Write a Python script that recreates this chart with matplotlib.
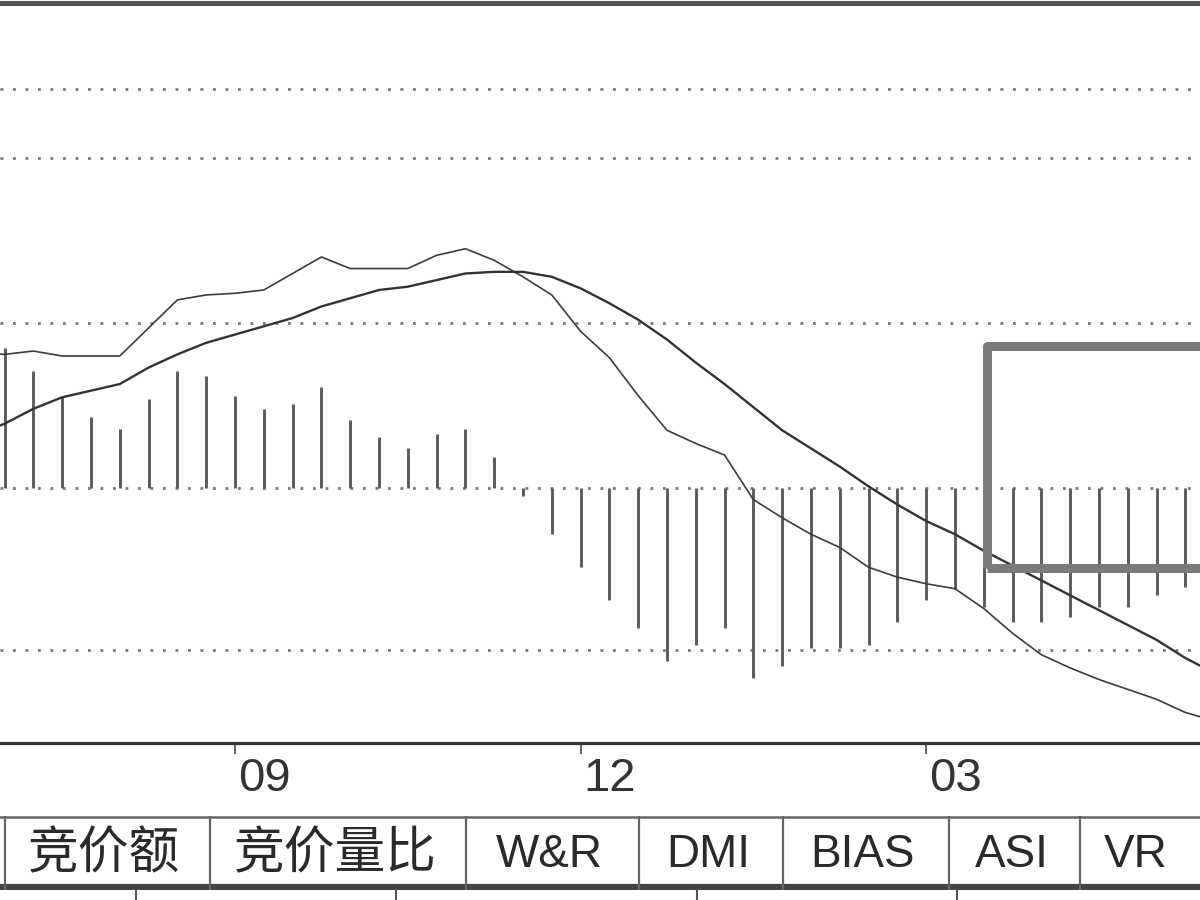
import numpy as np
import matplotlib
matplotlib.use("Agg")
import matplotlib.pyplot as plt
from matplotlib.patches import Rectangle
import matplotlib.transforms as mtransforms

plt.rcParams['font.family'] = ['Liberation Sans', 'Noto Sans CJK SC', 'DejaVu Sans']

# MACD values (one value per trading period)
dif = [0.082, 0.081, 0.083, 0.080, 0.080, 0.080, 0.097, 0.114, 0.117, 0.118, 0.120,
       0.130, 0.140, 0.133, 0.133, 0.133, 0.141, 0.145, 0.138, 0.128, 0.117, 0.095,
       0.079, 0.056, 0.035, 0.027, 0.020, -0.007, -0.018, -0.028, -0.036, -0.048,
       -0.054, -0.058, -0.061, -0.073, -0.088, -0.101, -0.109, -0.116, -0.122,
       -0.128, -0.136, -0.141]
dea = [0.032, 0.039, 0.048, 0.055, 0.059, 0.063, 0.073, 0.081, 0.088, 0.093, 0.098,
       0.103, 0.110, 0.115, 0.120, 0.122, 0.126, 0.130, 0.131, 0.131, 0.128, 0.121,
       0.112, 0.102, 0.090, 0.076, 0.063, 0.049, 0.035, 0.024, 0.013, 0.001,
       -0.010, -0.020, -0.028, -0.038, -0.047, -0.056, -0.065, -0.074, -0.083,
       -0.092, -0.103, -0.112]
macd = [0.085, 0.071, 0.055, 0.043, 0.036, 0.054, 0.071, 0.068, 0.056, 0.048, 0.051,
        0.061, 0.041, 0.031, 0.024, 0.033, 0.036, 0.019, -0.005, -0.028, -0.048,
        -0.068, -0.085, -0.105, -0.095, -0.085, -0.115, -0.108, -0.097, -0.097,
        -0.095, -0.081, -0.068, -0.061, -0.072, -0.081, -0.081, -0.078, -0.072,
        -0.072, -0.065, -0.060]
grid_levels = [0.242, 0.20, 0.10, 0.0, -0.098]
month_ticks = [8, 20, 32]
month_labels = ["09", "12", "03"]
tab_labels = ["竞价额", "竞价量比", "W&R", "DMI", "BIAS", "ASI", "VR"]
tab_edges = [5, 210, 466, 639, 783, 949, 1080, 1198]

W, H = 1200, 900
fig = plt.figure(figsize=(12, 9), dpi=100)
fig.patch.set_facecolor('white')

# main indicator panel
ax = fig.add_axes([0, (H - 743) / H, 1, (743 - 3) / H])
line_x = np.arange(len(dif)) - 1
bar_x = np.arange(len(macd))

for lv in grid_levels:
    ax.axhline(lv, color='#777777', lw=2.0, linestyle=(0, (1, 3.5)), zorder=1)

ax.vlines(bar_x, 0, macd, color='#5a5a5a', lw=2.1, zorder=2)
ax.plot(line_x, dif, color='#3c3c3c', lw=1.2, zorder=3)
ax.plot(line_x, dea, color='#333333', lw=1.7, zorder=3)

# highlight box (runs off the right edge)
box = Rectangle((34.13, -0.0485), 10, 0.1345, fill=False, edgecolor='#7a7a7a',
                lw=6.5, joinstyle='round', zorder=4)
ax.add_patch(box)

ax.set_xlim(-0.16, 41.51)
ax.set_ylim(-0.1545, 0.2939)
ax.set_yticks([])
for s in ['left', 'right']:
    ax.spines[s].set_visible(False)
ax.spines['bottom'].set_color('#333333')
ax.spines['bottom'].set_linewidth(2.3)
ax.spines['top'].set_color('#555555')
ax.spines['top'].set_linewidth(3.6)

ax.set_xticks(month_ticks)
ax.set_xticklabels([])
ax.tick_params(axis='x', direction='out', length=8, width=1.2, color='#444444')
trans = mtransforms.blended_transform_factory(ax.transData, fig.transFigure)
for t, lab in zip(month_ticks, month_labels):
    ax.text(t + 0.1, 1 - 779 / H, lab, transform=trans, ha='left', va='center',
            fontsize=34, color='#333333', clip_on=False)

# tab bar at the bottom
tab = fig.add_axes([0, (H - 890) / H, 1, (890 - 816) / H])
tab.set_xlim(0, W)
tab.set_ylim(0, 1)
tab.axis('off')
tab.axhline(1 - 0.5 / 74, color='#666666', lw=1.8)
tab.axhline(3.5 / 74, color='#444444', lw=5.2)
tab.vlines(tab_edges[:-1], 0, 1, color='#666666', lw=1.6)
for i, lab in enumerate(tab_labels):
    cx = (tab_edges[i] + tab_edges[i + 1]) / 2
    size = 36.5 if lab[0] == '竞' else 33
    tab.text(cx - 3, 0.47, lab, ha='center', va='center', fontsize=size, color='#2a2a2a')

# small separators below the tab bar
for x in [136, 396, 697, 957]:
    fig.add_artist(plt.Line2D([x / W, x / W], [0, 10 / H], color='#555555', lw=1.5))

plt.savefig('out.png', dpi=100)
plt.close()
